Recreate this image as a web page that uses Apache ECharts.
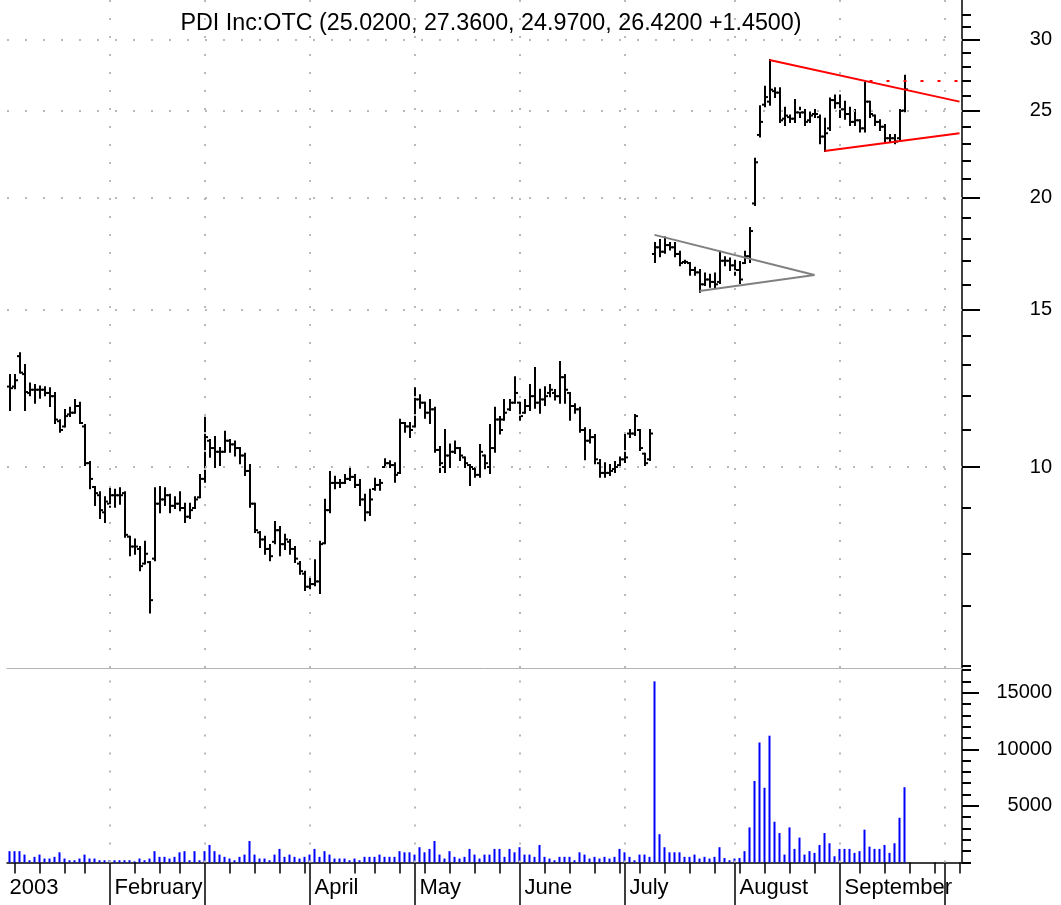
<!DOCTYPE html>
<html>
<head>
<meta charset="utf-8">
<title>PDI Inc:OTC</title>
<script src="https://cdn.jsdelivr.net/npm/echarts@6/dist/echarts.min.js"></script>
<style>
    html, body { margin: 0; padding: 0; background: #fff; }
    #chart { width: 1061px; height: 905px; }
</style>
</head>
<body>
<div id="chart"></div>
<script>
// trading calendar 2003
var holidays = ['2003-01-20', '2003-02-17', '2003-04-18', '2003-05-26', '2003-07-04', '2003-09-01'];
var firstDay = '2003-01-02';
var lastDay = '2003-10-03';
var monthLabels = ['2003', 'February', '', 'April', 'May', 'June', 'July', 'August', 'September', ''];

var opens = [
    12.3, 12.3, 13.3, 12.7, 12.1, 12.2, 12.2, 12.2, 12.1, 12.0,
    11.25, 11.1, 11.45, 11.5, 11.7, 11.1, 10.1, 9.5, 9.3, 8.9,
    9.1, 9.3, 9.3, 9.35, 8.36, 8.15, 8.1, 7.8, 7.83, 7.9,
    9.1, 9.2, 9.3, 9.05, 9.1, 9.0, 8.8, 9.0, 9.25, 9.7,
    10.7, 10.5, 10.4, 10.4, 10.7, 10.6, 10.5, 10.3, 9.9, 9.1,
    8.45, 8.3, 8.1, 8.25, 8.5, 8.2, 8.25, 8.1, 7.8, 7.6,
    7.35, 7.4, 7.45, 8.22, 8.95, 9.6, 9.6, 9.6, 9.7, 9.75,
    9.55, 9.2, 8.9, 9.45, 9.55, 10.0, 10.1, 10.05, 9.85, 11.2,
    11.1, 11.1, 11.9, 11.8, 11.5, 11.6, 10.45, 10.0, 10.3, 10.4,
    10.5, 10.25, 10.05, 9.95, 9.8, 10.3, 10.0, 10.5, 11.3, 11.3,
    11.6, 11.8, 11.8, 11.5, 11.7, 12.0, 11.8, 11.9, 12.1, 12.1,
    12.0, 12.6, 12.1, 11.7, 11.6, 11.0, 10.7, 10.8, 10.1, 9.85,
    9.85, 9.95, 10.05, 10.2, 10.9, 10.9, 11.0, 10.35, 10.2,
    17.3, 17.6, 17.4, 17.7, 17.6, 17.3, 16.95, 16.9, 16.6, 16.5,
    16.0, 16.2, 16.1, 16.1, 17.0, 17.0, 16.8, 16.6, 16.9, 17.2,
    19.7, 23.5, 25.4, 25.6, 26.3, 26.2, 24.5, 24.6, 24.5, 24.9,
    24.9, 24.4, 24.8, 24.6, 23.4, 23.9, 25.7, 25.5, 25.1, 24.8,
    24.3, 24.4, 23.9, 25.6, 24.7, 24.3, 24.0, 23.3, 23.3, 23.3, 25.02
];
var highs = [
    12.67, 12.67, 13.4, 13.0, 12.4, 12.35, 12.3, 12.28, 12.25, 12.1,
    11.28, 11.58, 11.65, 11.88, 11.8, 11.14, 10.13, 9.5, 9.37, 9.25,
    9.47, 9.43, 9.47, 9.37, 8.36, 8.3, 8.14, 8.25, 7.83, 9.47,
    9.5, 9.47, 9.31, 9.25, 9.37, 9.1, 9.1, 9.25, 9.8, 11.35,
    10.72, 10.8, 10.5, 10.95, 10.72, 10.68, 10.5, 10.35, 10.05, 9.1,
    8.46, 8.36, 8.18, 8.68, 8.57, 8.4, 8.29, 8.14, 7.83, 7.64,
    7.5, 7.87, 8.25, 9.19, 9.87, 9.75, 9.67, 9.8, 9.97, 9.8,
    9.67, 9.31, 9.43, 9.7, 9.67, 10.2, 10.15, 10.1, 11.29, 11.2,
    11.2, 12.25, 12.03, 11.8, 11.88, 11.65, 10.53, 11.0, 10.6, 10.68,
    10.5, 10.25, 10.05, 9.97, 10.58, 10.3, 11.14, 11.65, 11.37, 11.88,
    11.88, 12.6, 11.8, 11.88, 12.35, 12.9, 12.2, 12.28, 12.35, 12.19,
    13.1, 12.67, 12.1, 11.75, 11.65, 11.05, 11.0, 10.86, 10.18, 10.1,
    10.05, 10.13, 10.25, 10.9, 11.0, 11.43, 11.0, 10.35, 11.0,
    17.8, 17.93, 18.05, 17.8, 17.8, 17.4, 17.0, 16.9, 16.7, 16.6,
    16.45, 16.4, 16.45, 17.4, 17.15, 17.1, 17.0, 16.95, 17.4, 18.5,
    22.1, 25.3, 26.6, 28.5, 26.5, 26.5, 25.2, 24.7, 25.7, 25.2,
    25.05, 24.9, 25.05, 24.7, 24.5, 25.8, 26.0, 26.0, 25.6, 25.2,
    25.05, 24.4, 26.9, 25.6, 24.7, 24.4, 24.1, 23.5, 23.5, 25.05, 27.36
];
var lows = [
    11.58, 12.25, 12.75, 11.58, 12.03, 11.8, 11.95, 12.03, 11.7, 11.2,
    10.95, 11.1, 11.4, 11.5, 11.2, 10.05, 9.47, 9.07, 8.77, 8.68,
    9.03, 9.03, 9.1, 8.36, 7.97, 8.0, 7.67, 7.8, 6.88, 7.87,
    8.9, 9.07, 8.9, 9.0, 8.95, 8.68, 8.77, 9.0, 9.25, 9.63,
    10.27, 10.0, 10.05, 10.4, 10.4, 10.3, 10.1, 9.8, 9.03, 8.46,
    8.14, 8.0, 7.87, 8.22, 7.97, 8.1, 8.0, 7.83, 7.6, 7.29,
    7.32, 7.38, 7.23, 8.22, 8.9, 9.47, 9.5, 9.6, 9.67, 9.5,
    9.07, 8.72, 8.84, 9.43, 9.43, 10.0, 10.0, 9.63, 9.85, 10.95,
    10.8, 11.1, 11.65, 11.35, 11.2, 10.4, 9.87, 9.87, 10.0, 10.37,
    10.18, 10.0, 9.55, 9.75, 9.75, 9.97, 9.85, 10.4, 10.9, 11.29,
    11.58, 11.8, 11.29, 11.5, 11.58, 11.65, 11.5, 11.73, 12.0, 11.9,
    11.8, 11.8, 11.29, 11.5, 10.95, 10.2, 10.65, 10.1, 9.75, 9.75,
    9.8, 9.87, 10.0, 10.13, 10.8, 10.86, 10.45, 10.05, 10.18,
    16.95, 17.2, 17.35, 17.5, 17.2, 16.8, 16.9, 16.4, 16.4, 15.7,
    15.97, 15.9, 15.85, 16.05, 16.8, 16.6, 16.4, 16.05, 16.9, 16.95,
    19.62, 23.4, 25.3, 25.4, 25.9, 24.3, 24.1, 24.3, 24.3, 24.6,
    24.1, 24.3, 24.6, 23.0, 22.55, 23.8, 25.2, 24.6, 24.5, 24.1,
    24.1, 23.7, 23.7, 24.6, 24.1, 23.8, 23.1, 23.1, 23.0, 23.2, 24.97
];
var closes = [
    12.25, 12.5, 12.75, 12.13, 12.2, 12.2, 12.2, 12.1, 12.0, 11.3,
    11.0, 11.4, 11.5, 11.7, 11.2, 10.1, 9.7, 9.35, 8.95, 9.15,
    9.3, 9.3, 9.3, 8.4, 8.15, 8.15, 7.75, 8.0, 7.1, 9.1,
    9.2, 9.3, 9.05, 9.1, 9.0, 8.8, 8.95, 9.2, 9.7, 10.8,
    10.5, 10.4, 10.4, 10.7, 10.6, 10.5, 10.3, 9.9, 9.1, 8.5,
    8.3, 8.1, 7.95, 8.5, 8.2, 8.3, 8.1, 7.9, 7.65, 7.35,
    7.4, 7.45, 8.2, 8.95, 9.6, 9.6, 9.6, 9.7, 9.75, 9.55,
    9.2, 8.9, 9.2, 9.55, 9.6, 10.1, 10.05, 9.8, 11.2, 11.1,
    11.0, 11.9, 11.8, 11.5, 11.6, 10.45, 10.1, 10.3, 10.4, 10.5,
    10.3, 10.1, 10.0, 9.8, 10.4, 10.1, 10.5, 11.3, 11.0, 11.5,
    11.8, 12.1, 11.4, 11.7, 12.0, 11.8, 11.9, 12.0, 12.2, 12.0,
    12.6, 12.2, 11.7, 11.6, 11.0, 10.7, 10.8, 10.2, 9.85, 9.85,
    9.9, 10.0, 10.2, 10.25, 10.9, 11.4, 10.5, 10.1, 10.9,
    17.6, 17.4, 17.7, 17.6, 17.3, 16.9, 16.95, 16.6, 16.5, 16.0,
    16.2, 16.1, 16.0, 17.0, 17.0, 16.8, 16.6, 16.2, 17.2, 18.35,
    21.9, 24.3, 25.9, 26.4, 26.2, 24.4, 24.7, 24.5, 24.9, 24.9,
    24.3, 24.7, 24.8, 23.4, 23.6, 25.7, 25.5, 25.1, 24.8, 24.3,
    24.4, 23.9, 25.6, 24.8, 24.3, 24.0, 23.3, 23.3, 23.1, 25.0, 26.42
];
var volumes = [
    1000, 1000, 1000, 700, 200, 500, 700, 350, 350, 500,
    900, 350, 200, 200, 350, 700, 350, 350, 200, 200,
    200, 200, 200, 200, 200, 100, 350, 200, 350, 1000,
    500, 500, 350, 500, 900, 1000, 200, 1000, 200, 1000,
    1550, 1000, 700, 500, 350, 200, 500, 700, 1900, 700,
    350, 350, 200, 700, 1200, 500, 700, 500, 350, 500,
    700, 1200, 500, 1000, 700, 350, 350, 350, 200, 350,
    200, 500, 500, 500, 700, 500, 500, 500, 1000, 900,
    900, 700, 1350, 900, 1200, 1900, 700, 350, 1000, 500,
    350, 500, 1200, 700, 350, 700, 700, 1200, 1200, 500,
    1200, 900, 1350, 700, 700, 500, 1550, 500, 350, 200,
    500, 500, 500, 200, 900, 700, 350, 500, 350, 500,
    350, 500, 1200, 900, 500, 200, 700, 700, 500, 16000,
    2500, 1350, 900, 900, 900, 500, 500, 700, 350, 500,
    350, 500, 1350, 400, 200, 350, 400, 1000, 3100, 7200,
    10600, 6600, 11200, 3600, 2600, 700, 3100, 1200, 2200, 700,
    1000, 850, 1550, 2600, 1700, 550, 1200, 1200, 1200, 850,
    1000, 2900, 1400, 1200, 1200, 1550, 850, 1700, 3950, 6650
];

var priceMin = 5.963;
var priceMax = 33.25;
var priceTicks = [6, 7, 8, 9, 10, 11, 12, 13, 14, 15, 16, 17, 18, 19, 20,
    21, 22, 23, 24, 25, 26, 27, 28, 29, 30, 31, 32];
var priceLabels = [10, 15, 20, 25, 30];
var volumeMax = 17000;
var volumeLabels = [5000, 10000, 15000];

// trend lines as [bar index, price]
var redUpper = [[152, 28.5], [190, 25.6]];
var redLower = [[163, 22.55], [190, 23.6]];
var redBreakout = [[172, 27.0], [190, 27.0]];
var grayUpper = [[129, 18.17], [161, 16.39]];
var grayLower = [[138, 15.73], [161, 16.39]];

var FONT = 'Liberation Sans, Arial, sans-serif';

var dates = (function () {
    var out = [];
    var d = new Date(firstDay + 'T00:00:00Z');
    var end = Date.parse(lastDay + 'T00:00:00Z');
    while (d.getTime() <= end) {
        var s = d.toISOString().slice(0, 10);
        var wd = d.getUTCDay();
        if (wd !== 0 && wd !== 6 && holidays.indexOf(s) < 0) {
            out.push(s);
        }
        d.setUTCDate(d.getUTCDate() + 1);
    }
    return out;
})();

function weekday(s) {
    return new Date(s + 'T00:00:00Z').getUTCDay();
}
var isWeekEnd = dates.map(function (s, i) {
    var next = dates[i + 1];
    if (!next) {
        return weekday(s) === 5;
    }
    return weekday(next) <= weekday(s);
});
var isMonthEnd = dates.map(function (s, i) {
    var next = dates[i + 1];
    return !!next && next.slice(5, 7) !== s.slice(5, 7);
});
var isMonthStart = dates.map(function (s, i) {
    return i === 0 || dates[i - 1].slice(5, 7) !== s.slice(5, 7);
});

var weekTicks = dates.filter(function (s, i) { return isWeekEnd[i]; });
var monthTicks = dates.filter(function (s, i) { return isMonthEnd[i]; });
var monthStarts = dates.filter(function (s, i) { return isMonthStart[i]; });

var ohlc = opens.map(function (o, i) {
    return [i, o, highs[i], lows[i], closes[i]];
});

var gridDots = {color: '#b8b8b8', width: 2, type: [2, 16]};
var monthLines = monthTicks.map(function (s) {
    return {xAxis: s};
});
var priceLines = priceLabels.map(function (v) {
    return {yAxis: v};
});

function renderOhlc(params, api) {
    var i = api.value(0);
    var o = api.coord([i, api.value(1)]);
    var h = api.coord([i, api.value(2)]);
    var l = api.coord([i, api.value(3)]);
    var c = api.coord([i, api.value(4)]);
    var x = Math.round(o[0]);
    var style = {stroke: '#000', lineWidth: 2};
    return {
        type: 'group',
        children: [
            {type: 'line', shape: {x1: x, y1: h[1] - 1, x2: x, y2: l[1] + 1}, style: style},
            {type: 'line', shape: {x1: x - 3, y1: o[1], x2: x, y2: o[1]}, style: style},
            {type: 'line', shape: {x1: x, y1: c[1], x2: x + 3, y2: c[1]}, style: style}
        ]
    };
}

function trend(data, color, type, marks) {
    var s = {
        type: 'line',
        xAxisIndex: 0,
        yAxisIndex: 0,
        data: data,
        symbol: 'none',
        silent: true,
        z: 5,
        lineStyle: {color: color, width: 2, type: type || 'solid'}
    };
    if (marks) {
        s.markLine = {
            silent: true,
            symbol: ['none', 'none'],
            label: {show: false},
            lineStyle: gridDots,
            data: marks
        };
    }
    return s;
}

var option = {
    animation: false,
    backgroundColor: '#fff',
    title: {
        text: 'PDI Inc:OTC (25.0200, 27.3600, 24.9700, 26.4200 +1.4500)',
        left: 486,
        top: 7,
        textAlign: 'center',
        textStyle: {fontFamily: FONT, fontSize: 23.3, fontWeight: 'normal', color: '#000'}
    },
    grid: [
        {left: 7, right: 99, top: 0, height: 668},
        {left: 7, right: 99, top: 670, height: 192.5}
    ],
    xAxis: [
        {
            type: 'category', gridIndex: 0, data: dates, position: 'bottom',
            axisLine: {onZero: false, lineStyle: {color: '#b4b4b4', width: 1}},
            axisTick: {show: false}, axisLabel: {show: false}, splitLine: {show: false}
        },
        {
            type: 'category', gridIndex: 1, data: dates, position: 'bottom',
            axisLine: {show: true, onZero: false, lineStyle: {color: '#000', width: 1.5}},
            axisTick: {
                show: true, alignWithLabel: true, length: 11,
                customValues: weekTicks,
                lineStyle: {color: '#000', width: 1.5}
            },
            axisLabel: {show: false}, splitLine: {show: false}
        },
        {
            type: 'category', gridIndex: 1, data: dates, position: 'bottom',
            axisLine: {show: false, onZero: false},
            axisTick: {
                show: true, alignWithLabel: true, length: 45,
                customValues: monthTicks,
                lineStyle: {color: '#000', width: 1.5}
            },
            axisLabel: {
                show: true,
                customValues: monthStarts,
                formatter: function (v) {
                    return monthLabels[parseInt(v.slice(5, 7), 10) - 1];
                },
                align: 'left', margin: 14,
                fontFamily: FONT, fontSize: 22, color: '#000'
            },
            splitLine: {show: false}
        }
    ],
    yAxis: [
        {
            type: 'log', logBase: 10, gridIndex: 0, position: 'right',
            min: priceMin, max: priceMax, show: false
        },
        {
            type: 'value', gridIndex: 0, position: 'right',
            min: Math.log(priceMin), max: Math.log(priceMax),
            axisLine: {show: true, onZero: false, lineStyle: {color: '#000', width: 1.5}},
            axisTick: {
                show: true, length: 9, lineStyle: {color: '#000', width: 2},
                customValues: priceTicks.map(function (v) { return Math.log(v); })
            },
            axisLabel: {show: false}, splitLine: {show: false}
        },
        {
            type: 'value', gridIndex: 0, position: 'right',
            min: Math.log(priceMin), max: Math.log(priceMax),
            axisLine: {show: false, onZero: false},
            axisTick: {
                show: true, length: 18, lineStyle: {color: '#000', width: 2},
                customValues: priceLabels.map(function (v) { return Math.log(v); })
            },
            axisLabel: {
                customValues: priceLabels.map(function (v) { return Math.log(v); }),
                formatter: function (v) { return String(Math.round(Math.exp(v))); },
                align: 'right', margin: 90,
                fontFamily: FONT, fontSize: 20, color: '#000'
            },
            splitLine: {show: false}
        },
        {
            type: 'value', gridIndex: 1, position: 'right',
            min: 0, max: volumeMax, interval: 1000,
            axisLine: {show: true, onZero: false, lineStyle: {color: '#000', width: 1.5}},
            axisTick: {show: true, length: 9, lineStyle: {color: '#000', width: 2}},
            axisLabel: {show: false}, splitLine: {show: false}
        },
        {
            type: 'value', gridIndex: 1, position: 'right',
            min: 0, max: volumeMax,
            axisLine: {show: false, onZero: false},
            axisTick: {
                show: true, length: 17, lineStyle: {color: '#000', width: 2},
                customValues: volumeLabels
            },
            axisLabel: {
                customValues: volumeLabels,
                formatter: function (v) { return String(v); },
                align: 'right', margin: 90,
                fontFamily: FONT, fontSize: 20, color: '#000'
            },
            splitLine: {show: false}
        }
    ],
    series: [
        trend(grayUpper, '#808080', 'solid', monthLines.concat(priceLines)),
        trend(grayLower, '#808080'),
        trend(redUpper, '#ff0000'),
        trend(redLower, '#ff0000'),
        trend(redBreakout, '#ff0000', [3, 14]),
        {
            type: 'custom',
            xAxisIndex: 0,
            yAxisIndex: 0,
            renderItem: renderOhlc,
            encode: {x: 0, y: [1, 2, 3, 4]},
            data: ohlc,
            z: 4,
            silent: true
        },
        {
            type: 'bar',
            xAxisIndex: 1,
            yAxisIndex: 3,
            data: volumes,
            barWidth: 2,
            itemStyle: {color: '#0000ff'},
            silent: true,
            markLine: {
                silent: true,
                symbol: ['none', 'none'],
                label: {show: false},
                lineStyle: gridDots,
                data: monthLines
            }
        }
    ]
};

var chart = echarts.init(document.getElementById('chart'), null, {renderer: 'canvas'});
chart.setOption(option);
</script>
</body>
</html>
